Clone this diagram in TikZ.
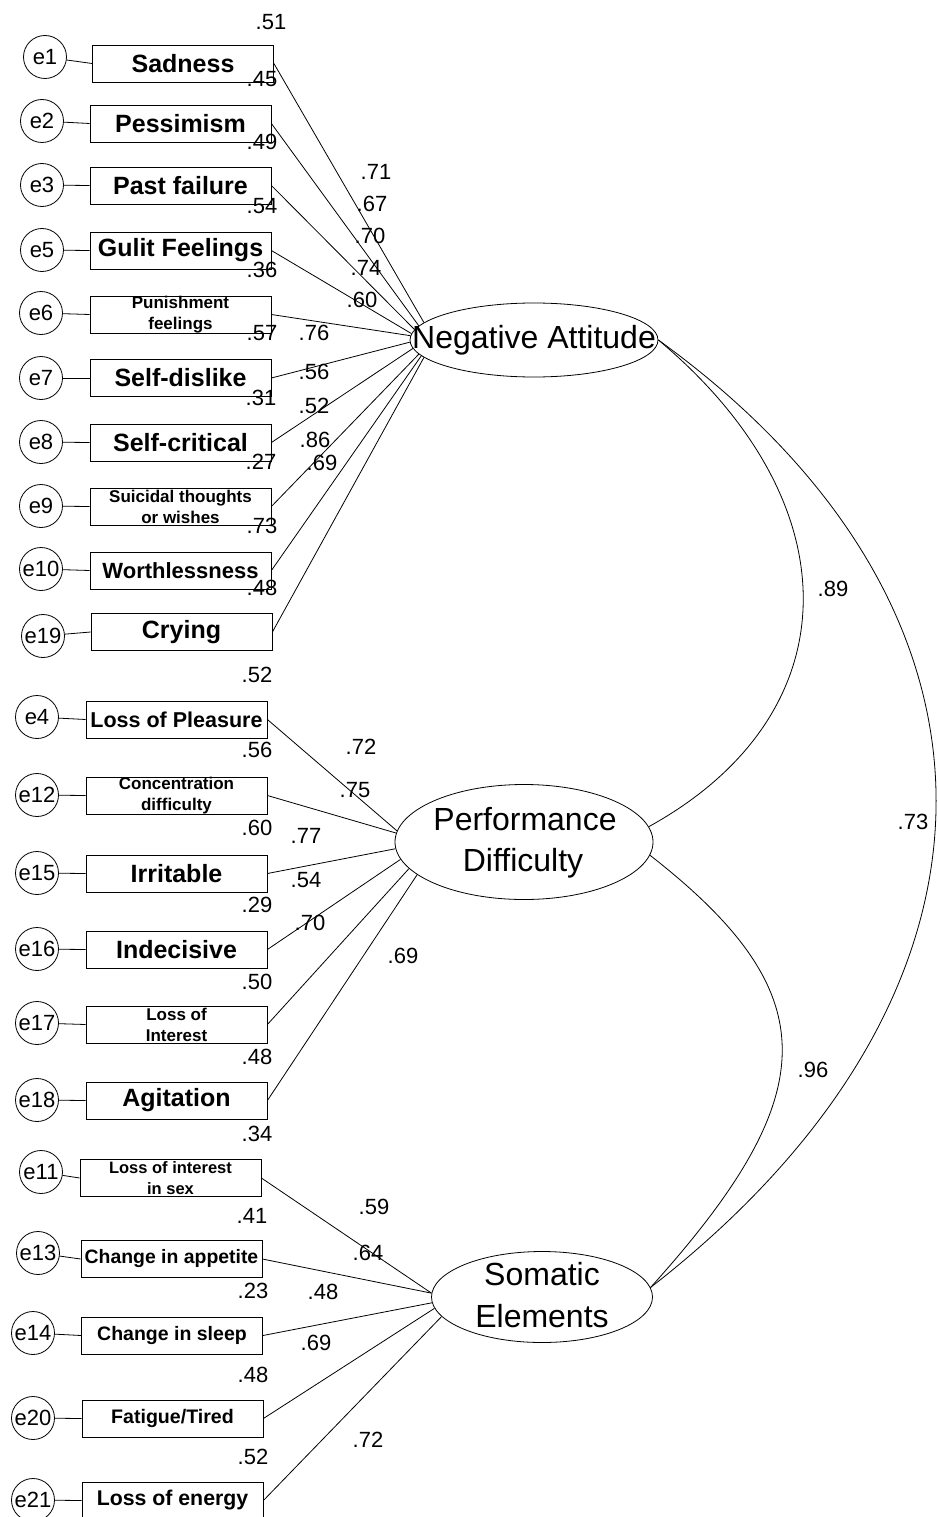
\documentclass[tikz,border=0pt]{standalone}
\usepackage{fontspec}
\setmainfont{Liberation Sans}
\usetikzlibrary{shapes.geometric}

\tikzset{
  err/.style={draw, circle, minimum size=43pt, inner sep=0pt, font=\fontsize{22}{26}\selectfont},
  obs/.style={draw, rectangle, minimum width=181pt, minimum height=37pt, inner sep=0pt,
              font=\bfseries\fontsize{25}{30}\selectfont},
  obstwo/.style={obs, align=center, font=\bfseries\fontsize{17}{21}\selectfont},
  lat/.style={draw, ellipse, inner sep=0pt},
  lattext/.style={font=\fontsize{32}{40}\selectfont, inner sep=0pt, anchor=base},
  coef/.style={font=\fontsize{22}{26}\selectfont, inner sep=0pt},
}

\begin{document}
\begin{tikzpicture}[x=1pt, y=-1pt, line width=0.8pt]
\useasboundingbox (0,0) rectangle (937,1517);

% latent factors
\node[lat, minimum width=248pt, minimum height=74pt]  (na) at (534,340)  {};
\node[lat, minimum width=258pt, minimum height=115pt] (pd) at (524,842)  {};
\node[lat, minimum width=221pt, minimum height=91pt]  (se) at (542,1297) {};

% negative attitude indicators
\node[obs] (sad)   at (183,63.5)   {Sadness};
\node[obs] (pes)   at (180.5,123.5) {Pessimism};
\node[obs] (past)  at (180.5,185.5) {Past failure};
\node[obs] (guilt) at (180.5,250.5) {Gulit Feelings};
\node[obstwo] (pun) at (180.5,314.5) {Punishment\\feelings};
\node[obs] (sdis)  at (180.5,378)   {Self-dislike};
\node[obs] (scrit) at (180.5,442.5) {Self-critical};
\node[obstwo] (suic) at (180.5,506.5) {Suicidal thoughts\\or wishes};
\node[obs, font=\bfseries\fontsize{22}{26}\selectfont] (worth) at (180.5,570.5) {Worthlessness};
\node[obs] (cry)   at (181.5,632)   {Crying};

% performance difficulty indicators
\node[obs, font=\bfseries\fontsize{21.5}{26}\selectfont] (lop) at (176.5,719.5) {Loss of Pleasure};
\node[obstwo] (conc) at (176.5,795.5) {Concentration\\difficulty};
\node[obs] (irr)   at (176.5,873.5)  {Irritable};
\node[obs] (indec) at (176.5,949.5)  {Indecisive};
\node[obstwo] (loi) at (176.5,1024.5) {Loss of\\Interest};
\node[obs] (agit)  at (176.5,1100.5) {Agitation};

% somatic indicators
\node[obstwo, font=\bfseries\fontsize{16.5}{21}\selectfont] (lois) at (170.5,1178) {Loss of interest\\in sex};
\node[obs, font=\bfseries\fontsize{19.4}{24}\selectfont] (app)   at (171.5,1259)   {Change in appetite};
\node[obs, font=\bfseries\fontsize{19.5}{24}\selectfont] (sleep) at (172,1335.5)   {Change in sleep};
\node[obs, font=\bfseries\fontsize{19.6}{24}\selectfont] (fat)   at (172.5,1418.5) {Fatigue/Tired};
\node[obs, font=\bfseries\fontsize{21.3}{26}\selectfont] (ener)  at (172.5,1500.5) {Loss of energy};

% error terms
\node[err] (e1)  at (45,57)   {e1};
\node[err] (e2)  at (42,121)  {e2};
\node[err] (e3)  at (42,185)  {e3};
\node[err] (e5)  at (42,250)  {e5};
\node[err] (e6)  at (41,313)  {e6};
\node[err] (e7)  at (41,378)  {e7};
\node[err] (e8)  at (41,442)  {e8};
\node[err] (e9)  at (41,506)  {e9};
\node[err] (e10) at (41,569)  {e10};
\node[err] (e19) at (43,636)  {e19};
\node[err] (e4)  at (37,717)  {e4};
\node[err] (e12) at (37,795)  {e12};
\node[err] (e15) at (37,873)  {e15};
\node[err] (e16) at (37,949)  {e16};
\node[err] (e17) at (37,1023) {e17};
\node[err] (e18) at (37,1100) {e18};
\node[err] (e11) at (41,1172) {e11};
\node[err] (e13) at (38,1253) {e13};
\node[err] (e14) at (33,1333) {e14};
\node[err] (e20) at (33,1418) {e20};
\node[err] (e21) at (33,1500) {e21};

% error links
\foreach \e/\b in {e1/sad, e2/pes, e3/past, e5/guilt, e6/pun, e7/sdis, e8/scrit, e9/suic,
                   e10/worth, e19/cry, e4/lop, e12/conc, e15/irr, e16/indec, e17/loi, e18/agit,
                   e11/lois, e13/app, e14/sleep, e20/fat, e21/ener}
  \draw (\e) -- (\b.west);

% factor loadings
\foreach \b/\a in {sad/171, pes/173, past/175.5, guilt/177, pun/178.5, sdis/181.5,
                   scrit/184, suic/187, worth/188.5, cry/189.5}
  \draw (\b.east) -- (na.\a);
\foreach \b/\a in {lop/175, conc/176.5, irr/183, indec/188, loi/193.5, agit/197}
  \draw (\b.east) -- (pd.\a);
\foreach \b/\a in {lois/178, app/178.5, sleep/183, fat/186, ener/191}
  \draw (\b.east) -- (se.\a);

% factor correlations
\draw (na.east) .. controls +(196,164) and +(203,-112) .. (pd.7);
\draw (pd.-6)  .. controls +(177,138) and +(175,-194) .. (se.5);
\draw (na.east) .. controls +(373,270) and +(378,-294) .. (se.5);

% factor names
\node[lattext] (na-name)  at (534,348)  {Negative Attitude};
\node[lattext] (pd-name1) at (525,830)  {Performance};
\node[lattext] (pd-name2) at (523,871)  {Difficulty};
\node[lattext] (se-name1) at (542,1285) {Somatic};
\node[lattext] (se-name2) at (542,1327) {Elements};

% estimates
\foreach \x/\y/\t [count=\i] in {
  271/22/.51, 262/79/.45, 262/142/.49, 262/206/.54, 262/270/.36, 262/333/.57,
  314/333/.76, 376/172/.71, 372/204/.67, 370/236/.70, 366/268/.74, 362/300/.60,
  314/372/.56, 261/398/.31, 314/406/.52, 315/440/.86, 261/462/.27, 322/463/.69,
  262/526/.73, 262/588/.48, 257/675/.52,
  361/747/.72, 257/750/.56, 355/790/.75, 257/828/.60, 306/836/.77, 306/880/.54,
  257/905/.29, 310/923/.70, 403/956/.69, 257/982/.50, 257/1057/.48, 257/1134/.34,
  374/1207/.59, 252/1216/.41, 368/1253/.64, 253/1291/.23, 323/1292/.48,
  316/1343/.69, 253/1375/.48, 253/1457/.52, 368/1440/.72,
  833/589/.89, 913/822/.73, 813/1070/.96}
  \node[coef] (est\i) at (\x,\y) {\t};

\end{tikzpicture}
\end{document}
